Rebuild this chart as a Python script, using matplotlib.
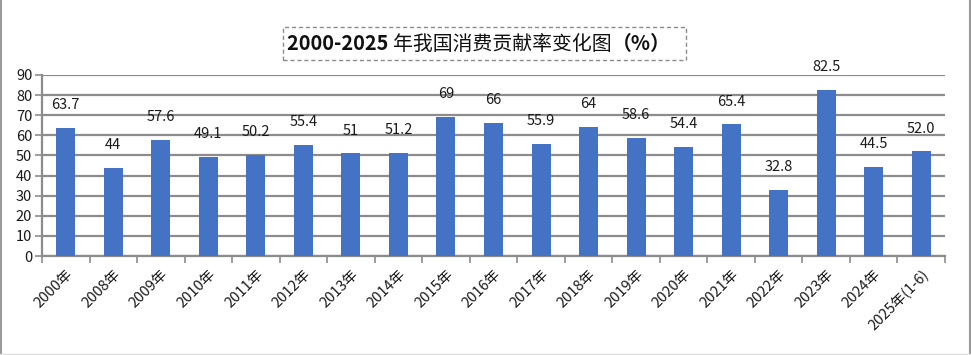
import matplotlib
matplotlib.use("Agg")
import matplotlib.pyplot as plt
from matplotlib.patches import Rectangle
from matplotlib.lines import Line2D

plt.rcParams['font.family'] = ['Noto Sans CJK SC', 'DejaVu Sans']

categories = ["2000年", "2008年", "2009年", "2010年", "2011年", "2012年", "2013年",
              "2014年", "2015年", "2016年", "2017年", "2018年", "2019年", "2020年",
              "2021年", "2022年", "2023年", "2024年", "2025年(1-6)"]
values = [63.7, 44, 57.6, 49.1, 50.2, 55.4, 51, 51.2, 69, 66, 55.9, 64, 58.6,
          54.4, 65.4, 32.8, 82.5, 44.5, 52.0]
value_labels = ["63.7", "44", "57.6", "49.1", "50.2", "55.4", "51", "51.2", "69", "66",
                "55.9", "64", "58.6", "54.4", "65.4", "32.8", "82.5", "44.5", "52.0"]
yticks = [0, 10, 20, 30, 40, 50, 60, 70, 80, 90]
title_parts = ["2000-2025 ", "年我国消费贡献率变化图", "（%）"]

W, H = 971, 355
fig = plt.figure(figsize=(W / 100, H / 100), dpi=100)
ax = fig.add_axes([42 / W, 1 - 256 / H, (945 - 42) / W, (256 - 75) / H])

x = list(range(len(categories)))
ax.bar(x, values, width=0.4, color="#4472C4", zorder=3)
for xi, v, lab in zip(x, values, value_labels):
    ax.annotate(lab, (xi, v), xytext=(0, 16.5), textcoords="offset points",
                ha="center", va="center", fontsize=10.5, color="#1a1a1a", zorder=4)

ax.set_xlim(-0.5, len(categories) - 0.5)
ax.set_ylim(0, 90)
ax.set_yticks(yticks)
ax.set_yticklabels([str(t) for t in yticks], fontsize=10.5, color="#1a1a1a")
ax.yaxis.grid(True, color="#8c8c8c", linewidth=1.6, zorder=0)
ax.tick_params(axis="y", length=5, width=1.2, color="#8c8c8c", pad=2)

ax.set_xticks([i - 0.5 for i in range(len(categories) + 1)])
ax.set_xticklabels([])
ax.set_xticks(x, minor=True)
ax.set_xticklabels(categories, minor=True, rotation=45, ha="right",
                   rotation_mode="anchor", fontsize=10.5, color="#1a1a1a")
ax.tick_params(axis="x", which="major", length=5, width=1.2, color="#8c8c8c")
ax.tick_params(axis="x", which="minor", length=0, pad=8)

for s in ["top", "right"]:
    ax.spines[s].set_visible(False)
for s in ["left", "bottom"]:
    ax.spines[s].set_color("#8c8c8c")
    ax.spines[s].set_linewidth(1.6)

# figure border
fig.add_artist(Line2D([1 / W, 1 / W], [0, 1], color="#9a9a9a", lw=1.5))
fig.add_artist(Line2D([1 - 1.5 / W, 1 - 1.5 / W], [0, 1], color="#9a9a9a", lw=1.5))
fig.add_artist(Line2D([0, 1], [0.7 / H, 0.7 / H], color="#dddddd", lw=1))

# title box
fig.add_artist(Rectangle((283 / W, 1 - 60 / H), (686 - 283) / W, 33 / H,
                         fill=False, edgecolor="#8c8c8c", linestyle=(0, (3, 2)), lw=1))

# title text in parts
fig.canvas.draw()
renderer = fig.canvas.get_renderer()
weights = ["bold", "normal", "bold"]
texts = []
for part, w in zip(title_parts, weights):
    t = fig.text(0, 1 - 44 / H, part, fontsize=14.3, fontweight=w, color="#111111",
                 ha="left", va="center")
    texts.append(t)
widths = [t.get_window_extent(renderer).width for t in texts]
total = sum(widths)
xstart = 479 - total / 2
for t, wd in zip(texts, widths):
    t.set_x(xstart / W)
    xstart += wd

fig.savefig("out.png", dpi=100)
